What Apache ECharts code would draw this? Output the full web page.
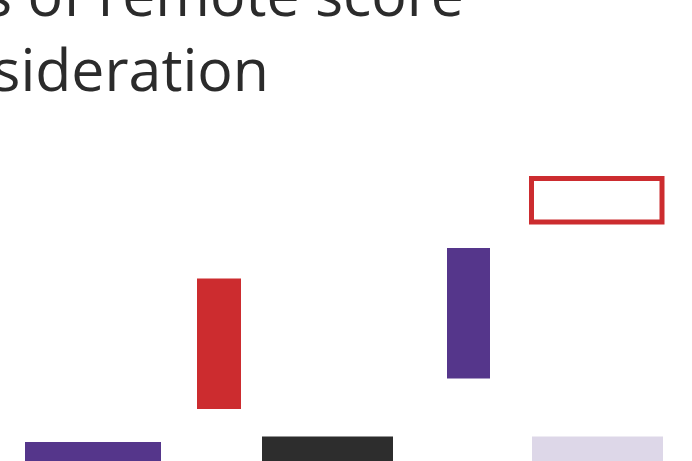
<!DOCTYPE html>
<html>
<head>
<meta charset="utf-8">
<script src="https://cdn.jsdelivr.net/npm/echarts@6/dist/echarts.min.js"></script>
<style>
html,body{margin:0;padding:0;background:#fff;}
#chart{width:692px;height:461px;}
</style>
</head>
<body>
<div id="chart"></div>
<script>
// Title fragments (visible part of the chart's title)
const titleLines = ["s of remote score", "sideration"];

// Floating bars: horizontal extent and vertical low/high (chart units)
const barNames  = ["start", "drop", "base", "rise", "target", "remote"];
const barLeft   = [25, 197, 262, 447, 531.5, 532];
const barRight  = [161, 241, 393, 490, 662, 663];
const barLow    = [-30, 52, -30, 82.5, 239, -30];
const barHigh   = [19, 182.5, 24.5, 213, 282.5, 24.5];
const barColor  = ["#55368b", "#cc2c2f", "#2d2d2d", "#55368b", "#cc2c2f", "#ddd7e8"];
const barHollow = [false, false, false, false, true, false];

const data = barNames.map((n, i) => [barLeft[i], barRight[i], barLow[i], barHigh[i], i]);

const chart = echarts.init(document.getElementById('chart'));
chart.setOption({
  animation: false,
  grid: {left: 0, right: 0, top: 0, bottom: 0},
  xAxis: {type: 'value', min: 0, max: 692, show: false},
  yAxis: {type: 'value', min: 0, max: 461, show: false},
  graphic: [
    {type: 'text', right: 692 - 464, top: -30,
     style: {text: titleLines[0], font: '59px "Open Sans"', fill: '#2b2b2b'}},
    {type: 'text', right: 692 - 269, top: 45,
     style: {text: titleLines[1], font: '59px "Open Sans"', fill: '#2b2b2b'}}
  ],
  series: [{
    type: 'custom',
    clip: true,
    data: data,
    encode: {x: [0, 1], y: [2, 3]},
    renderItem: function (params, api) {
      const i = api.value(4);
      const p0 = api.coord([api.value(0), api.value(3)]);
      const p1 = api.coord([api.value(1), api.value(2)]);
      const shape = {x: p0[0], y: p0[1], width: p1[0] - p0[0], height: p1[1] - p0[1]};
      if (barHollow[i]) {
        return {type: 'rect', shape: shape, style: {fill: 'none', stroke: barColor[i], lineWidth: 5}};
      }
      return {type: 'rect', shape: shape, style: {fill: barColor[i]}};
    }
  }]
});
</script>
</body>
</html>
